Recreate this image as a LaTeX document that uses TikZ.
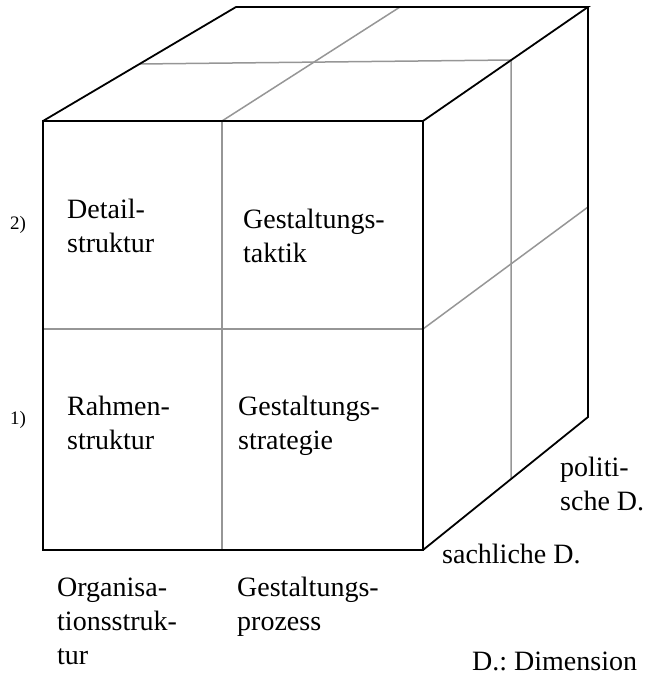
\documentclass[tikz,border=0pt]{standalone}
\usepackage{fontspec}
\setmainfont{Liberation Serif}
\frenchspacing
\begin{document}
\begin{tikzpicture}[x=1pt,y=-1pt,
  edge/.style={line width=1.8pt,black,line join=miter},
  grid/.style={line width=1.5pt,color=gridgray},
  lbl/.style={anchor=base west,inner sep=0pt,align=left,font=\fontsize{28}{34}\selectfont},
  num/.style={anchor=base west,inner sep=0pt,font=\fontsize{19}{22}\selectfont}]
\definecolor{gridgray}{RGB}{150,150,150}
\useasboundingbox (0,0) rectangle (647,677);
% corners
\coordinate (FTL) at (43,121);
\coordinate (FTR) at (423,121);
\coordinate (FBL) at (43,550);
\coordinate (FBR) at (423,550);
\coordinate (BTL) at (236,7);
\coordinate (BTR) at (588,7);
\coordinate (BBR) at (588,417);
% grid points
\coordinate (FTM) at (222,121);
\coordinate (FBM) at (222,550);
\coordinate (FLM) at (43,329);
\coordinate (FRM) at (423,329);
\coordinate (BTM) at (400,7);
\coordinate (TLM) at (139.5,64);
\coordinate (TRM) at (511,60);
\coordinate (RBM) at (511,479);
\coordinate (BRM) at (588,207);
% grey dividing lines
\draw[grid] (FTM) -- (FBM);
\draw[grid] (FLM) -- (FRM);
\draw[grid] (FTM) -- (BTM);
\draw[grid] (TLM) -- (TRM) -- (RBM);
\draw[grid] (FRM) -- (BRM);
% black edges
\draw[edge] (FTL) rectangle (FBR);
\draw[edge] (FTL) -- (BTL) -- (BTR) -- (FTR);
\draw[edge] (BTR) -- (BBR) -- (FBR);
% texts (anchor = baseline of the last line)
\node[lbl] (detail) at (67,252) {Detail-\\struktur};
\node[lbl] (taktik) at (243,262) {Gestaltungs-\\taktik};
\node[lbl] (rahmen) at (67,449) {Rahmen-\\struktur};
\node[lbl] (strat) at (238,449) {Gestaltungs-\\strategie};
\node[lbl] (org) at (57,664) {Organisa-\\tionsstruk-\\tur};
\node[lbl] (proz) at (237,630) {Gestaltungs-\\prozess};
\node[lbl] (pol) at (560,510) {politi-\\sche D.};
\node[lbl] (sach) at (442,563) {sachliche D.};
\node[lbl] (dim) at (472,670) {D.: Dimension};
\node[num] (n2) at (10,229) {2)};
\node[num] (n1) at (10,424) {1)};
\end{tikzpicture}
\end{document}
